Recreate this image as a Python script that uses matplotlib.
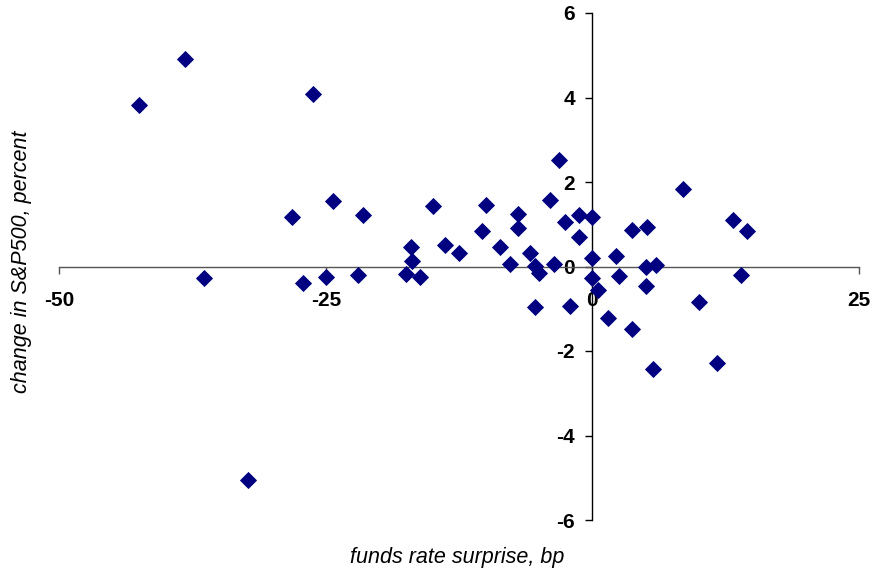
import matplotlib
matplotlib.use("Agg")
import matplotlib.pyplot as plt

# funds rate surprise (bp) and change in S&P500 (percent)
surprise = [-42.5, -38.2, -26.2, -28.2, -24.3, -21.5, -14.9, -17.0, -16.9, -17.5,
            -16.2, -13.8, -12.5, -36.4, -27.1, -25.0, -22.0, -32.3, -3.1, -10.0,
            -10.3, -8.7, -7.7, -7.0, -7.0, -5.8, -5.4, -5.0, -5.4, -4.0,
            -3.6, -2.6, -1.25, -1.25, -2.1, 0.0, 0.0, 0.0, 0.5, 1.5,
            2.2, 2.5, 3.7, 3.75, 5.1, 5.0, 6.0, 5.0, 5.67, 8.5,
            13.2, 14.5, 14.0, 10.0, 11.7]
sp_change = [3.82, 4.90, 4.09, 1.18, 1.56, 1.23, 1.44, 0.47, 0.12, -0.17,
             -0.24, 0.52, 0.32, -0.27, -0.39, -0.24, -0.20, -5.05, 2.52, 1.46,
             0.85, 0.47, 0.05, 1.25, 0.92, 0.32, 0.01, -0.15, -0.96, 1.57,
             0.05, 1.05, 1.23, 0.69, -0.94, 1.17, 0.19, -0.27, -0.56, -1.21,
             0.26, -0.23, 0.87, -1.49, 0.94, -0.01, 0.04, -0.47, -2.43, 1.83,
             1.10, 0.83, -0.20, -0.83, -2.28]

x_ticks = [-50, -25, 0, 25]
y_ticks = [-6, -4, -2, 0, 2, 4, 6]
x_label = "funds rate surprise, bp"
y_label = "change in S&P500, percent"

plt.rcParams['font.family'] = ['Liberation Sans', 'DejaVu Sans']

W, H = 873, 575
fig = plt.figure(figsize=(W / 100, H / 100), dpi=100)
ax = fig.add_axes([59.3 / W, 1 - 520 / H, 799.4 / W, 507 / H])

ax.plot(surprise, sp_change, linestyle='none', marker='D', markersize=8.6,
        color='#000080', markeredgecolor='#000080', markeredgewidth=0.6,
        clip_on=False, zorder=3)

ax.set_xlim(-50, 25)
ax.set_ylim(-6, 6)

ax.spines['top'].set_visible(False)
ax.spines['right'].set_visible(False)
ax.spines['left'].set_position(('data', 0))
ax.spines['bottom'].set_position(('data', 0))
ax.spines['left'].set_color('black')
ax.spines['bottom'].set_color('#555555')
ax.spines['left'].set_linewidth(1.0)
ax.spines['bottom'].set_linewidth(1.0)

ax.set_xticks(x_ticks)
ax.set_yticks(y_ticks)
ax.set_xticklabels([str(v) for v in x_ticks], fontsize=15, fontweight='bold')
ax.set_yticklabels([str(v) for v in y_ticks], fontsize=15, fontweight='bold')
ax.tick_params(axis='x', direction='out', length=5, width=1, color='#555555', pad=13)
ax.tick_params(axis='y', direction='out', length=5, width=1, color='black', pad=7.5)

fig.text(456.7 / W, 1 - 558 / H, x_label, fontsize=15.5, style='italic',
         ha='center', va='center')
fig.text(22 / W, 1 - 262 / H, y_label, fontsize=15.5, style='italic',
         ha='center', va='center', rotation=90)

fig.savefig("out.png", dpi=100)
